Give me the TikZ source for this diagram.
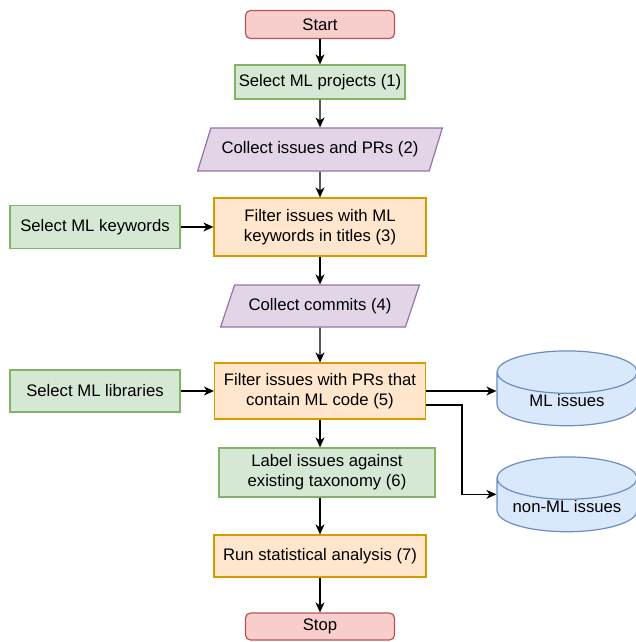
\documentclass[tikz,border=0pt]{standalone}
\usepackage{fontspec}
\setmainfont{Liberation Sans}
\usepackage{tikz}
\usetikzlibrary{arrows.meta,positioning,shapes.geometric}
\definecolor{redfill}{HTML}{F8CECC}
\definecolor{redline}{HTML}{B85450}
\definecolor{greenfill}{HTML}{D5E8D4}
\definecolor{greenline}{HTML}{82B366}
\definecolor{purplefill}{HTML}{E1D5E7}
\definecolor{purpleline}{HTML}{9673A6}
\definecolor{orangefill}{HTML}{FFE6CC}
\definecolor{orangeline}{HTML}{D79B00}
\definecolor{bluefill}{HTML}{DAE8FC}
\definecolor{blueline}{HTML}{6C8EBF}
\tikzstyle{every node}=[font=\fontsize{16.7}{20}\selectfont,align=center]
\tikzstyle{terminal}=[rectangle,
                      rounded corners=5pt,
                      line width=1.2pt,
                      minimum width=149pt,
                      minimum height=28pt,
                      draw=redline,
                      fill=redfill]
\tikzstyle{task}=[rectangle,
                  line width=1.2pt,
                  draw=greenline,
                  fill=greenfill]
\tikzstyle{dataio}=[trapezium,
                    trapezium left angle=61,
                    trapezium right angle=119,
                    trapezium stretches=true,
                    line width=1.2pt,
                    draw=purpleline,
                    fill=purplefill]
\tikzstyle{filtering}=[rectangle,
                       line width=1.2pt,
                       draw=orangeline,
                       fill=orangefill]
\tikzstyle{database}=[cylinder,
                      shape border rotate=90,
                      aspect=0.55,
                      inner sep=1pt,
                      line width=1.2pt,
                      minimum width=140pt,
                      minimum height=74pt,
                      draw=blueline,
                      fill=bluefill]

\begin{document}
\begin{tikzpicture}[x=1pt,y=1pt,>={Stealth[length=10pt,width=9pt,inset=3pt]},line width=1.3pt]
\useasboundingbox (0,0) rectangle (636,-642);
\node (start) [terminal] at (320,-24.5) {Start};
\node (proj) [task,below of=start,node distance=57.5pt,minimum width=170pt,minimum height=34pt] {Select ML projects (1)};
\node (coll) [dataio,below of=proj,node distance=67.5pt,minimum width=245pt,minimum height=43pt] {Collect issues and PRs (2)};
\node (filt3) [filtering,below of=coll,node distance=77.5pt,minimum width=212pt,minimum height=58pt] {Filter issues with ML\\keywords in titles (3)};
\node (keys) [task,left of=filt3,node distance=225pt,minimum width=170pt,minimum height=43pt] {Select ML keywords};
\node (comm) [dataio,below of=filt3,node distance=79pt,minimum width=199pt,minimum height=42pt] {Collect commits (4)};
\node (filt5) [filtering,below of=comm,node distance=85pt,minimum width=211pt,minimum height=56pt] {Filter issues with PRs that\\contain ML code (5)};
\node (libs) [task,left of=filt5,node distance=225pt,minimum width=170pt,minimum height=42pt] {Select ML libraries};
\node (mliss) [database,right of=filt5,node distance=247pt,yshift=-10pt] {\makebox[75pt]{ML issues}};
\node (nonml) [database,below of=mliss,node distance=106pt] {\makebox[75pt]{non-ML issues}};
\node (label) [task,below of=filt5,node distance=81.5pt,xshift=7pt,minimum width=216pt,minimum height=49pt] {Label issues against\\existing taxonomy (6)};
\node (run) [filtering,below of=filt5,node distance=165pt,minimum width=212pt,minimum height=42pt] {Run statistical analysis (7)};
\node (stop) [terminal,below of=run,node distance=70.5pt,minimum height=27pt] {Stop};
\path[->] (start) edge (proj);
\path[->] (proj) edge (coll);
\path[->] (coll) edge (filt3);
\path[->] (keys) edge (filt3);
\path[->] (filt3) edge (comm);
\path[->] (comm) edge (filt5);
\path[->] (libs) edge (filt5);
\draw[->] (filt5.east) -- (filt5.east -| mliss.west);
\draw[->] ([yshift=-14pt]filt5.east) -- ++(36,0) |- (nonml.west |- nonml.shape center);
\draw[->] (filt5.south) -- (filt5.south |- label.north);
\draw[->] (label.south -| run.north) -- (run.north);
\path[->] (run) edge (stop);
\end{tikzpicture}
\end{document}
